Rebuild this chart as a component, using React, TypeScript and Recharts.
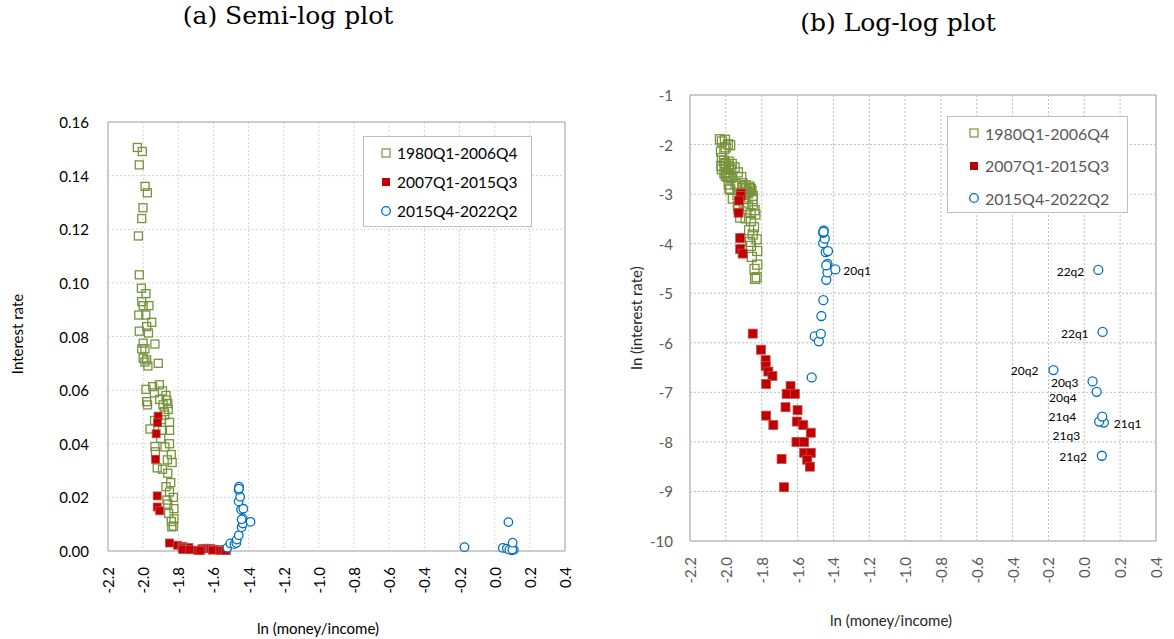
import {
  CartesianGrid,
  Legend,
  ReferenceLine,
  Scatter,
  ScatterChart,
  XAxis,
  YAxis,
} from "recharts";

const FONT = "Lato, 'Noto Sans', sans-serif";
const GREEN = "#77933C";
const RED = "#C00000";
const BLUE = "#0070C0";

// axis ticks
const xTicks = [-2.2, -2.0, -1.8, -1.6, -1.4, -1.2, -1.0, -0.8, -0.6, -0.4, -0.2, 0.0, 0.2, 0.4];
const rateTicks = [0, 0.02, 0.04, 0.06, 0.08, 0.1, 0.12, 0.14, 0.16];
const lnRateTicks = [-10, -9, -8, -7, -6, -5, -4, -3, -2, -1];

const seriesNames = ["1980Q1-2006Q4", "2007Q1-2015Q3", "2015Q4-2022Q2"];

// 1980Q1-2006Q4: ln(money/income), interest rate
const greenX = [
  -2.033, -2.005, -2.022, -1.989, -1.976, -2.001, -2.008, -2.027, -2.022, -2.01,
  -1.984, -2.008, -1.967, -2.0, -2.025, -1.985, -1.951, -1.98, -2.022, -1.97,
  -2.0, -1.933, -2.008, -1.99, -2.0, -1.98, -1.99, -1.914, -1.973, -1.984,
  -1.946, -1.908, -1.936, -1.89, -1.98, -1.975, -1.906, -1.866, -1.887, -1.857,
  -1.877, -1.896, -1.935, -1.961, -1.85, -1.89, -1.933, -1.85, -1.876, -1.93,
  -1.862, -1.835, -1.92, -1.89, -1.86, -1.843, -1.828, -1.865, -1.86, -1.825,
  -1.855, -1.825, -1.837, -1.828, -1.87, -1.86, -1.88, -1.85, -1.9, -1.84,
  -1.87, -1.85, -1.84,
];
const greenRate = [
  0.1505, 0.149, 0.144, 0.136, 0.1336, 0.128, 0.124, 0.1175, 0.103, 0.098,
  0.096, 0.093, 0.0915, 0.0915, 0.088, 0.088, 0.0853, 0.0837, 0.082, 0.0813,
  0.0775, 0.0772, 0.0754, 0.0754, 0.0719, 0.0713, 0.0705, 0.07, 0.069, 0.0603,
  0.0613, 0.062, 0.059, 0.0597, 0.0557, 0.0545, 0.0565, 0.0563, 0.0545, 0.0528,
  0.0507, 0.049, 0.0487, 0.0455, 0.045, 0.045, 0.039, 0.04, 0.0388, 0.037,
  0.034, 0.033, 0.031, 0.0305, 0.029, 0.0255, 0.02, 0.019, 0.0175, 0.0158,
  0.014, 0.012, 0.009, 0.0093, 0.058, 0.055, 0.052, 0.048, 0.042, 0.036,
  0.024, 0.022, 0.011,
];

// 2007Q1-2015Q3: ln(money/income), ln(interest rate)
const redX = [
  -1.915, -1.918, -1.926, -1.929, -1.92, -1.92, -1.906, -1.85, -1.804, -1.778,
  -1.778, -1.763, -1.74, -1.775, -1.775, -1.735, -1.639, -1.661, -1.615, -1.667,
  -1.6, -1.604, -1.568, -1.526, -1.606, -1.563, -1.563, -1.526, -1.546, -1.531,
  -1.689, -1.676,
];
const redLnRate = [
  -2.99, -3.04, -3.13, -3.375, -3.885, -4.11, -4.2, -5.815, -6.14, -6.35,
  -6.47, -6.58, -6.67, -6.83, -7.47, -7.66, -6.875, -7.03, -7.03, -7.3,
  -7.36, -7.59, -7.66, -7.815, -8.0, -8.0, -8.22, -8.22, -8.36, -8.5,
  -8.345, -8.915,
];

// 2015Q4-2022Q2
const blueX = [
  -1.521, -1.504, -1.481, -1.47, -1.467, -1.456, -1.44, -1.433, -1.433, -1.443,
  -1.43, -1.457, -1.448, -1.457, -1.454, -1.455, -1.44, -1.389, -0.172, 0.046,
  0.069, 0.109, 0.098, 0.083, 0.1, 0.102, 0.078,
];
const blueLnRate = [
  -6.7, -5.87, -5.97, -5.82, -5.46, -5.14, -4.73, -4.58, -4.41, -4.17,
  -4.15, -3.99, -3.9, -3.78, -3.73, -3.76, -4.44, -4.52, -6.55, -6.78,
  -6.99, -7.61, -8.28, -7.59, -7.49, -5.78, -4.53,
];
const blueLabels = [
  "", "", "", "", "", "", "", "", "", "",
  "", "", "", "", "", "", "", "20q1", "20q2", "20q3",
  "20q4", "21q1", "21q2", "21q3", "21q4", "22q1", "22q2",
];

const labelOffsets: Record<string, { dx: number; dy: number; anchor: "start" | "end" }> = {
  "20q1": { dx: 8, dy: 1, anchor: "start" },
  "20q2": { dx: -15, dy: 0, anchor: "end" },
  "20q3": { dx: -14, dy: 1, anchor: "end" },
  "20q4": { dx: -20, dy: 6, anchor: "end" },
  "21q1": { dx: 10, dy: 1, anchor: "start" },
  "21q2": { dx: -15, dy: 1, anchor: "end" },
  "21q3": { dx: -19, dy: 14, anchor: "end" },
  "21q4": { dx: -26, dy: 0, anchor: "end" },
  "22q1": { dx: -14, dy: 2, anchor: "end" },
  "22q2": { dx: -14, dy: 2, anchor: "end" },
};

const greenRows = greenX.map((x, i) => ({ x, rate: greenRate[i], ln: Math.log(greenRate[i]) }));
const redRows = redX.map((x, i) => ({ x, rate: Math.exp(redLnRate[i]), ln: redLnRate[i] }));
const blueRows = blueX.map((x, i) => ({
  x,
  rate: Math.exp(blueLnRate[i]),
  ln: blueLnRate[i],
  label: blueLabels[i],
}));

const hollowSquare = (size: number) => (p: any) => (
  <rect x={p.cx - size / 2} y={p.cy - size / 2} width={size} height={size} fill="none" stroke={GREEN} strokeWidth={1.3} />
);
const filledSquare = (size: number) => (p: any) => (
  <rect x={p.cx - size / 2} y={p.cy - size / 2} width={size} height={size} fill={RED} stroke="#C94A4A" strokeWidth={0.8} />
);
const hollowCircle = (size: number, withLabel: boolean) => (p: any) => {
  const label = withLabel ? p.payload?.label : "";
  const off = label ? labelOffsets[label] : null;
  return (
    <g>
      <circle cx={p.cx} cy={p.cy} r={size / 2} fill="#fff" stroke={BLUE} strokeWidth={1.3} />
      {off && (
        <text
          x={p.cx + off.dx}
          y={p.cy + off.dy}
          textAnchor={off.anchor}
          dominantBaseline="central"
          fontFamily={FONT}
          fontSize={12}
          fill="#000"
        >
          {label}
        </text>
      )}
    </g>
  );
};

const xTick = (color: string) => (p: any) => {
  const y = p.y + 16;
  return (
    <text
      x={p.x}
      y={y}
      transform={`rotate(-90 ${p.x} ${y})`}
      textAnchor="end"
      dominantBaseline="central"
      fontFamily={FONT}
      fontSize={15}
      fill={color}
    >
      {Number(p.payload.value).toFixed(1)}
    </text>
  );
};

const yTick = (color: string, gap: number, digits: number) => (p: any) => (
  <text x={p.x - gap} y={p.y} textAnchor="end" dominantBaseline="central" fontFamily={FONT} fontSize={15} fill={color}>
    {Number(p.payload.value).toFixed(digits)}
  </text>
);

type LegendCfg = { w: number; h: number; firstRow: number; rowGap: number; markerX: number; textX: number; fontSize: number; color: string };

const LegendBox = ({ cfg }: { cfg: LegendCfg }) => (
  <div
    style={{
      width: cfg.w,
      height: cfg.h,
      border: "1px solid #bfbfbf",
      background: "#fff",
      boxSizing: "border-box",
      position: "relative",
      fontFamily: FONT,
      fontSize: cfg.fontSize,
      color: cfg.color,
    }}
  >
    {seriesNames.map((name, i) => (
      <div
        key={name}
        style={{ position: "absolute", left: 0, top: cfg.firstRow + i * cfg.rowGap - 11, height: 22, display: "flex", alignItems: "center", whiteSpace: "nowrap" }}
      >
        <svg width={cfg.textX} height={22} style={{ display: "block" }}>
          {i === 0 && <rect x={cfg.markerX - 4} y={7} width={8} height={8} fill="none" stroke={GREEN} strokeWidth={1.2} />}
          {i === 1 && <rect x={cfg.markerX - 4} y={7} width={8} height={8} fill={RED} />}
          {i === 2 && <circle cx={cfg.markerX} cy={11} r={4.3} fill="none" stroke={BLUE} strokeWidth={1.3} />}
        </svg>
        <span>{name}</span>
      </div>
    ))}
  </div>
);

const textAbs = (x: number, y: number, rotate = 0): React.CSSProperties => ({
  position: "absolute",
  left: x,
  top: y,
  transform: `translate(-50%, -50%) rotate(${rotate}deg)`,
  whiteSpace: "nowrap",
});

export default function App() {
  return (
    <div style={{ position: "absolute", left: 0, top: 0, width: 1174, height: 639, background: "#fff", overflow: "hidden" }}>
      <div style={{ ...textAbs(288, 15), fontFamily: "'DejaVu Serif', serif", fontSize: 25 }}>(a) Semi-log plot</div>
      <div style={{ ...textAbs(898, 22), fontFamily: "'DejaVu Serif', serif", fontSize: 25 }}>(b) Log-log plot</div>

      {/* (a) semi-log */}
      <div style={{ position: "absolute", left: 0, top: 0 }}>
        <ScatterChart width={600} height={639} margin={{ top: 122, right: 35, bottom: 48, left: 48 }}>
          <CartesianGrid stroke="#d4d4d4" strokeDasharray="2 2" />
          <XAxis
            type="number"
            dataKey="x"
            domain={[-2.2, 0.4]}
            ticks={xTicks}
            interval={0}
            height={40}
            tickSize={0}
            tickMargin={0}
            tickLine={false}
            axisLine={{ stroke: "#bfbfbf", strokeWidth: 1.5 }}
            tick={xTick("#000")}
          />
          <YAxis
            type="number"
            dataKey="rate"
            domain={[0, 0.16]}
            ticks={rateTicks}
            interval={0}
            width={60}
            tickSize={0}
            tickMargin={0}
            tickLine={false}
            axisLine={{ stroke: "#bfbfbf", strokeWidth: 1.5 }}
            tick={yTick("#000", 19, 2)}
          />
          <ReferenceLine y={0.16} stroke="#bfbfbf" strokeWidth={1.5} />
          <ReferenceLine x={0.4} stroke="#bfbfbf" strokeWidth={1.5} />
          <Legend
            layout="vertical"
            align="center"
            verticalAlign="middle"
            wrapperStyle={{ left: 363, top: 136, width: 169 }}
            content={() => (
              <LegendBox cfg={{ w: 169, h: 91, firstRow: 16, rowGap: 29, markerX: 22, textX: 33, fontSize: 15.5, color: "#000" }} />
            )}
          />
          <Scatter name={seriesNames[0]} data={greenRows} shape={hollowSquare(8)} isAnimationActive={false} />
          <Scatter name={seriesNames[1]} data={redRows} shape={filledSquare(8)} isAnimationActive={false} />
          <Scatter name={seriesNames[2]} data={blueRows} shape={hollowCircle(8.5, false)} isAnimationActive={false} />
        </ScatterChart>
      </div>
      <div style={{ ...textAbs(17, 334, -90), fontFamily: FONT, fontSize: 15, color: "#000" }}>Interest rate</div>
      <div style={{ ...textAbs(318, 628), fontFamily: FONT, fontSize: 15, color: "#000" }}>ln (money/income)</div>

      {/* (b) log-log */}
      <div style={{ position: "absolute", left: 600, top: 0 }}>
        <ScatterChart width={574} height={639} margin={{ top: 95, right: 18, bottom: 58, left: 30 }}>
          <CartesianGrid stroke="#bdbdbd" strokeDasharray="2 2" />
          <XAxis
            type="number"
            dataKey="x"
            domain={[-2.2, 0.4]}
            ticks={xTicks}
            interval={0}
            height={40}
            tickSize={0}
            tickMargin={0}
            tickLine={false}
            axisLine={{ stroke: "#bfbfbf", strokeWidth: 1.5 }}
            tick={xTick("#595959")}
          />
          <YAxis
            type="number"
            dataKey="ln"
            domain={[-10, -1]}
            ticks={lnRateTicks}
            interval={0}
            width={60}
            tickSize={0}
            tickMargin={0}
            tickLine={false}
            axisLine={{ stroke: "#bfbfbf", strokeWidth: 1.5 }}
            tick={yTick("#595959", 17, 0)}
          />
          <ReferenceLine y={-1} stroke="#bfbfbf" strokeWidth={1.5} />
          <ReferenceLine x={0.4} stroke="#bfbfbf" strokeWidth={1.5} />
          <Legend
            layout="vertical"
            align="center"
            verticalAlign="middle"
            wrapperStyle={{ left: 347, top: 116, width: 181 }}
            content={() => (
              <LegendBox cfg={{ w: 181, h: 97, firstRow: 16, rowGap: 32.5, markerX: 26, textX: 37, fontSize: 16, color: "#595959" }} />
            )}
          />
          <Scatter name={seriesNames[0]} data={greenRows} shape={hollowSquare(9)} isAnimationActive={false} />
          <Scatter name={seriesNames[1]} data={redRows} shape={filledSquare(9)} isAnimationActive={false} />
          <Scatter name={seriesNames[2]} data={blueRows} shape={hollowCircle(9, true)} isAnimationActive={false} />
        </ScatterChart>
      </div>
      <div style={{ ...textAbs(636, 318, -90), fontFamily: FONT, fontSize: 15, color: "#262626" }}>ln (interest rate)</div>
      <div style={{ ...textAbs(891, 620), fontFamily: FONT, fontSize: 15, color: "#262626" }}>ln (money/income)</div>
    </div>
  );
}
